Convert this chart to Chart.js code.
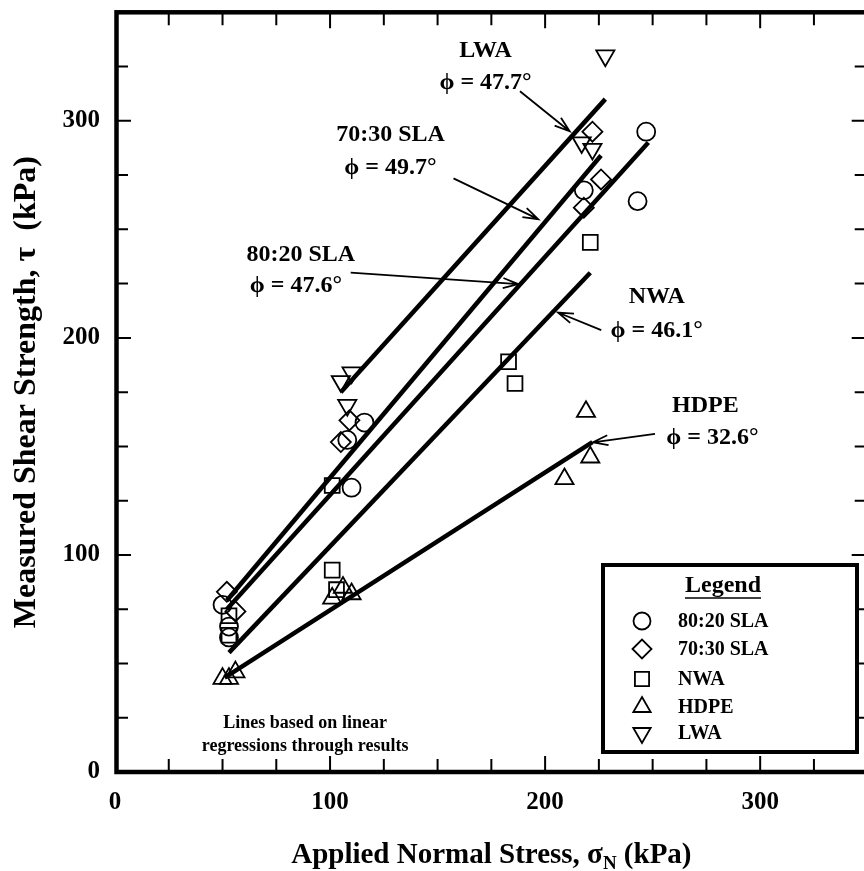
<!DOCTYPE html>
<html>
<head>
<meta charset="utf-8">
<script src="https://cdn.jsdelivr.net/npm/chart.js@4.4.0/dist/chart.umd.min.js"></script>
<style>
  html, body { margin: 0; padding: 0; overflow: hidden; background: #fff; }
  canvas { display: block; }
</style>
</head>
<body>
<canvas id="chart" width="880" height="871"></canvas>
<script>
const FONT = '"Liberation Serif", "Times New Roman", serif';

// measured points [normal stress, shear strength] in kPa
const sla8020 = [[50, 77], [53, 67], [53, 62], [108, 153], [116, 161], [110, 131], [218, 268], [243, 263], [247, 295]];
const sla7030 = [[52, 83], [56, 74], [105, 152], [109, 162], [218, 260], [226, 273], [222, 295]];
const nwa = [[53, 72], [53, 63], [101, 132], [101, 93], [103, 84], [183, 189], [186, 179], [221, 244]];
const hdpe = [[50, 43], [53, 43], [56, 46], [101, 80], [106, 85], [110, 82], [209, 135], [221, 145], [219, 166]];
const lwa = [[105, 180], [110, 184], [108, 169], [217, 290], [222, 287], [228, 330]];

// regression line end points as drawn
const fit8020 = [[52, 75], [248, 290]];
const fit7030 = [[52, 79], [226, 284]];
const fitNwa = [[53, 55], [221, 230]];
const fitHdpe = [[51, 43.5], [222, 152]];
const fitLwa = [[105, 175], [228, 310]];

const seriesNames = ['80:20 SLA', '70:30 SLA', 'NWA', 'HDPE', 'LWA'];
const xTickLabels = [0, 100, 200, 300];
const yTickLabels = [0, 100, 200, 300];

// annotation text: [text, x, y] in data units
const notes = [
  ['LWA', 172.3, 332.4], ['\u03d5 = 47.7\u00b0', 172.3, 317.5],
  ['70:30 SLA', 128.1, 293.4], ['\u03d5 = 49.7\u00b0', 128.1, 278.4],
  ['80:20 SLA', 86.4, 238.1], ['\u03d5 = 47.6\u00b0', 84.1, 224.0],
  ['NWA', 251.9, 218.9], ['\u03d5 = 46.1\u00b0', 251.9, 203.3],
  ['HDPE', 274.5, 168.8], ['\u03d5 = 32.6\u00b0', 277.8, 154.1]
];
// arrows: [fromX, fromY, toX, toY] in data units
const arrows = [
  [188.3, 313.6, 211.4, 295.2],
  [157.4, 273.5, 196.8, 254.7],
  [109.6, 230.1, 187.5, 224.8],
  [226.1, 203.6, 206.0, 211.7],
  [251.1, 155.8, 222.2, 151.9]
];

const toXY = arr => arr.map(p => ({ x: p[0], y: p[1] }));

const markerStyles = [
  { pointStyle: 'circle', radius: 9, rotation: 0 },
  { pointStyle: 'rectRot', radius: 10, rotation: 0 },
  { pointStyle: 'rect', radius: 10.5, rotation: 0 },
  { pointStyle: 'triangle', radius: 10.5, rotation: 0 },
  { pointStyle: 'triangle', radius: 10.5, rotation: 180 }
];

function scatterSet(label, pts, m) {
  return {
    type: 'scatter', label, data: toXY(pts),
    pointStyle: m.pointStyle, pointRadius: m.radius, pointRotation: m.rotation,
    pointBorderWidth: 1.8, pointBorderColor: '#000',
    pointBackgroundColor: 'rgba(0,0,0,0)', showLine: false
  };
}
function fitSet(pts) {
  return {
    type: 'line', label: 'fit', data: toXY(pts),
    borderColor: '#000', borderWidth: 4.5, pointRadius: 0, fill: false, tension: 0
  };
}

function drawArrow(ctx, x1, y1, x2, y2) {
  const a = Math.atan2(y2 - y1, x2 - x1);
  const len = 16, spread = 0.32;
  ctx.beginPath();
  ctx.moveTo(x1, y1);
  ctx.lineTo(x2, y2);
  ctx.moveTo(x2 - len * Math.cos(a - spread), y2 - len * Math.sin(a - spread));
  ctx.lineTo(x2, y2);
  ctx.lineTo(x2 - len * Math.cos(a + spread), y2 - len * Math.sin(a + spread));
  ctx.stroke();
}

const decorations = {
  id: 'decorations',
  afterDatasetsDraw(chart) {
    const { ctx, chartArea: ca, scales: { x, y } } = chart;
    ctx.save();
    ctx.strokeStyle = '#000';
    ctx.fillStyle = '#000';

    // frame
    ctx.lineWidth = 4.5;
    ctx.strokeRect(ca.left + 1.5, ca.top, ca.right - ca.left, ca.bottom - ca.top);

    // inward ticks every 25 kPa
    ctx.lineWidth = 2;
    ctx.beginPath();
    for (let v = 25; v < 350; v += 25) {
      const len = v % 100 === 0 ? 16 : 13;
      const px = x.getPixelForValue(v);
      ctx.moveTo(px, ca.bottom); ctx.lineTo(px, ca.bottom - len);
      ctx.moveTo(px, ca.top); ctx.lineTo(px, ca.top + len);
      const py = y.getPixelForValue(v);
      ctx.moveTo(ca.left, py); ctx.lineTo(ca.left + len, py);
      ctx.moveTo(ca.right, py); ctx.lineTo(ca.right - len, py);
    }
    ctx.stroke();

    // annotations
    ctx.font = 'bold 24px ' + FONT;
    ctx.textAlign = 'center';
    ctx.textBaseline = 'middle';
    notes.forEach(n => ctx.fillText(n[0], x.getPixelForValue(n[1]), y.getPixelForValue(n[2])));
    ctx.lineWidth = 1.8;
    arrows.forEach(a => drawArrow(ctx, x.getPixelForValue(a[0]), y.getPixelForValue(a[1]),
                                      x.getPixelForValue(a[2]), y.getPixelForValue(a[3])));

    ctx.font = 'bold 18px ' + FONT;
    ctx.fillText('Lines based on linear', x.getPixelForValue(88.4), y.getPixelForValue(22.4));
    ctx.fillText('regressions through results', x.getPixelForValue(88.4), y.getPixelForValue(11.6));

    // legend box
    const bx = 603, by = 565, bw = 254, bh = 187;
    ctx.fillStyle = '#fff';
    ctx.fillRect(bx, by, bw, bh);
    ctx.fillStyle = '#000';
    ctx.lineWidth = 4;
    ctx.strokeRect(bx, by, bw, bh);
    ctx.font = 'bold 24px ' + FONT;
    ctx.fillText('Legend', 723, 586);
    const lw = ctx.measureText('Legend').width;
    ctx.lineWidth = 1.6;
    ctx.beginPath();
    ctx.moveTo(723 - lw / 2, 598); ctx.lineTo(723 + lw / 2, 598);
    ctx.stroke();

    const rows = [621, 649, 679, 707, 733];
    ctx.font = 'bold 20px ' + FONT;
    ctx.textAlign = 'left';
    seriesNames.forEach((name, i) => {
      const m = markerStyles[i];
      ctx.save();
      ctx.lineWidth = 1.8;
      ctx.fillStyle = 'rgba(0,0,0,0)';
      Chart.helpers.drawPoint(ctx, { pointStyle: m.pointStyle, radius: m.radius - 0.5, rotation: m.rotation, borderWidth: 1.8 }, 642, rows[i]);
      ctx.restore();
      ctx.fillText(name, 678, rows[i] + 1);
    });

    // axis titles
    ctx.textBaseline = 'middle';
    ctx.font = 'bold 32px ' + FONT;
    ctx.save();
    ctx.translate(27, (ca.top + ca.bottom) / 2);
    ctx.rotate(-Math.PI / 2);
    ctx.textAlign = 'center';
    ctx.fillText('Measured Shear Strength, \u03c4  (kPa)', 0, 0);
    ctx.restore();

    const partA = 'Applied Normal Stress, \u03c3', partB = 'N', partC = ' (kPa)';
    ctx.font = 'bold 29px ' + FONT;
    const wA = ctx.measureText(partA).width, wC = ctx.measureText(partC).width;
    ctx.font = 'bold 19px ' + FONT;
    const wB = ctx.measureText(partB).width;
    let tx = (ca.left + ca.right) / 2 - (wA + wB + wC) / 2;
    const ty = 856;
    ctx.textAlign = 'left';
    ctx.font = 'bold 29px ' + FONT;
    ctx.fillText(partA, tx, ty);
    ctx.font = 'bold 19px ' + FONT;
    ctx.fillText(partB, tx + wA, ty + 8);
    ctx.font = 'bold 29px ' + FONT;
    ctx.fillText(partC, tx + wA + wB, ty);
    ctx.restore();
  }
};

new Chart(document.getElementById('chart'), {
  data: {
    datasets: [
      fitSet(fit8020), fitSet(fit7030), fitSet(fitNwa), fitSet(fitHdpe), fitSet(fitLwa),
      scatterSet(seriesNames[0], sla8020, markerStyles[0]),
      scatterSet(seriesNames[1], sla7030, markerStyles[1]),
      scatterSet(seriesNames[2], nwa, markerStyles[2]),
      scatterSet(seriesNames[3], hdpe, markerStyles[3]),
      scatterSet(seriesNames[4], lwa, markerStyles[4])
    ]
  },
  options: {
    responsive: false,
    animation: false,
    layout: { padding: { top: 11, right: 9, left: 0, bottom: 0 } },
    plugins: { legend: { display: false }, tooltip: { enabled: false } },
    scales: {
      x: {
        type: 'linear', min: 0, max: 350,
        grid: { display: false, drawTicks: false },
        border: { display: false },
        afterBuildTicks: s => { s.ticks = xTickLabels.map(v => ({ value: v })); },
        afterFit: s => { s.height = 99; s.paddingLeft = 0; s.paddingRight = 0; },
        ticks: { padding: 16, color: '#000', font: { family: FONT, size: 25, weight: 'bold' } }
      },
      y: {
        type: 'linear', min: 0, max: 350,
        grid: { display: false, drawTicks: false },
        border: { display: false },
        afterBuildTicks: s => { s.ticks = yTickLabels.map(v => ({ value: v })); },
        afterFit: s => { s.width = 115; s.paddingTop = 0; s.paddingBottom = 0; },
        ticks: { padding: 15, color: '#000', font: { family: FONT, size: 25, weight: 'bold' } }
      }
    }
  },
  plugins: [decorations]
});
</script>
</body>
</html>
